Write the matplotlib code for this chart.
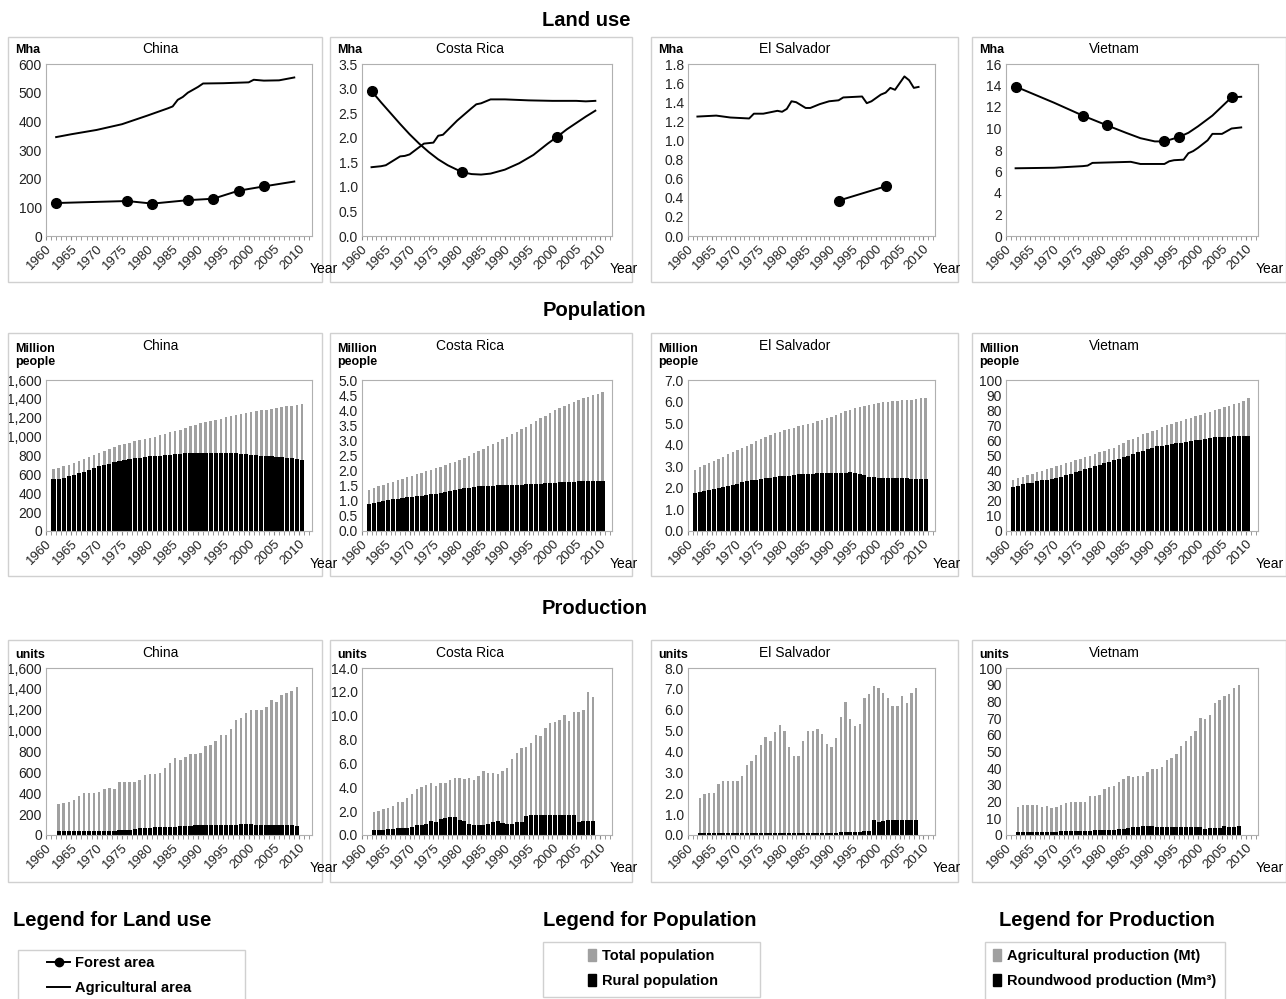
import numpy as np
import matplotlib.pyplot as plt
from matplotlib.patches import Rectangle
from matplotlib.lines import Line2D
from matplotlib.ticker import FuncFormatter, MultipleLocator

plt.rcParams['font.family'] = ['Liberation Sans', 'DejaVu Sans']

countries = ['China', 'Costa Rica', 'El Salvador', 'Vietnam']

# ---- Land use (Mha) ----
forest_years = {
    'China': [1962, 1976, 1981, 1988, 1993, 1998, 2003, 2009],
    'Costa Rica': [1962, 1964, 1966, 1968, 1970, 1972, 1974, 1976, 1978, 1981, 1983, 1985, 1987, 1990, 1993, 1996, 1999, 2001, 2003, 2005, 2007, 2009],
    'El Salvador': [1992, 2002],
    'Vietnam': [1962, 1970, 1976, 1981, 1985, 1988, 1991, 1993, 1996, 1998, 2000, 2003, 2007, 2009],
}
forest_vals = {
    'China': [115, 122, 113, 125, 130, 158, 173, 190],
    'Costa Rica': [2.95, 2.72, 2.50, 2.28, 2.07, 1.88, 1.71, 1.56, 1.44, 1.30, 1.26, 1.25, 1.27, 1.35, 1.48, 1.65, 1.88, 2.02, 2.17, 2.30, 2.43, 2.55],
    'El Salvador': [0.37, 0.52],
    'Vietnam': [13.9, 12.4, 11.2, 10.3, 9.6, 9.1, 8.8, 8.8, 9.2, 9.6, 10.2, 11.2, 12.9, 12.95],
}
forest_marked = {
    'China': [1962, 1976, 1981, 1988, 1993, 1998, 2003],
    'Costa Rica': [1962, 1981, 2001],
    'El Salvador': [1992, 2002],
    'Vietnam': [1962, 1976, 1981, 1993, 1996, 2007],
}
agri_years = {
    'China': [1962, 1965, 1970, 1975, 1980, 1984, 1985, 1986, 1987, 1988, 1990, 1991, 1995, 2000, 2001, 2003, 2006, 2009],
    'Costa Rica': [1962, 1964, 1965, 1968, 1969, 1970, 1973, 1975, 1976, 1977, 1980, 1983, 1984, 1985, 1987, 1990, 1995, 2000, 2005, 2007, 2009],
    'El Salvador': [1962, 1966, 1969, 1973, 1974, 1976, 1979, 1980, 1981, 1982, 1983, 1985, 1986, 1988, 1990, 1992, 1993, 1997, 1998, 1999, 2001, 2002, 2003, 2004, 2006, 2007, 2008, 2009],
    'Vietnam': [1962, 1970, 1976, 1977, 1978, 1986, 1988, 1993, 1994, 1995, 1997, 1998, 1999, 2000, 2002, 2003, 2005, 2007, 2009],
}
agri_vals = {
    'China': [345, 355, 370, 390, 420, 445, 452, 475, 485, 500, 520, 532, 533, 536, 545, 542, 543, 553],
    'Costa Rica': [1.40, 1.42, 1.44, 1.62, 1.63, 1.66, 1.88, 1.90, 2.04, 2.06, 2.35, 2.60, 2.68, 2.70, 2.78, 2.78, 2.76, 2.75, 2.75, 2.74, 2.75],
    'El Salvador': [1.25, 1.26, 1.24, 1.23, 1.28, 1.28, 1.31, 1.30, 1.33, 1.41, 1.40, 1.34, 1.34, 1.38, 1.41, 1.42, 1.45, 1.46, 1.39, 1.41, 1.48, 1.50, 1.55, 1.53, 1.67, 1.63, 1.55, 1.56],
    'Vietnam': [6.3, 6.35, 6.5, 6.55, 6.8, 6.9, 6.7, 6.7, 6.95, 7.05, 7.1, 7.7, 7.9, 8.2, 8.9, 9.5, 9.5, 10.0, 10.1],
}
land_ylim = {'China': (600, 100), 'Costa Rica': (3.5, 0.5), 'El Salvador': (1.8, 0.2), 'Vietnam': (16, 2)}
land_fmt = {'China': '{:.0f}', 'Costa Rica': '{:.1f}', 'El Salvador': '{:.1f}', 'Vietnam': '{:.0f}'}

# ---- Population (million people), 1961-2010 ----
pop_total = {
    'China': [660, 670, 685, 700, 720, 740, 760, 785, 805, 830, 850, 870, 890, 910, 925, 935, 950, 960, 975, 985,
              1000, 1015, 1030, 1045, 1060, 1075, 1095, 1110, 1125, 1140, 1155, 1165, 1180, 1190, 1205, 1215, 1225, 1240, 1250, 1260,
              1270, 1280, 1285, 1295, 1305, 1310, 1320, 1325, 1335, 1345],
    'Costa Rica': [1.37, 1.42, 1.48, 1.53, 1.58, 1.63, 1.68, 1.73, 1.78, 1.83, 1.88, 1.93, 1.98, 2.03, 2.08, 2.13, 2.18, 2.24, 2.30, 2.36,
                   2.43, 2.50, 2.57, 2.64, 2.72, 2.80, 2.88, 2.96, 3.04, 3.12, 3.20, 3.28, 3.37, 3.46, 3.55, 3.64, 3.73, 3.82, 3.91, 4.00,
                   4.08, 4.15, 4.22, 4.28, 4.34, 4.40, 4.45, 4.50, 4.55, 4.60],
    'El Salvador': [2.85, 2.95, 3.05, 3.15, 3.25, 3.35, 3.45, 3.55, 3.65, 3.75, 3.85, 3.95, 4.05, 4.15, 4.25, 4.35, 4.45, 4.53, 4.60, 4.67,
                    4.73, 4.79, 4.85, 4.90, 4.96, 5.02, 5.08, 5.15, 5.22, 5.30, 5.38, 5.46, 5.54, 5.62, 5.70, 5.76, 5.80, 5.85, 5.89, 5.93,
                    5.96, 5.99, 6.01, 6.03, 6.05, 6.07, 6.09, 6.12, 6.15, 6.18],
    'Vietnam': [34, 35, 36, 37, 38, 39, 40, 41, 42, 43, 44, 45, 46, 47, 48, 49, 50, 51, 52, 53,
                54, 55, 57, 58, 60, 61, 62, 64, 65, 66, 67, 69, 70, 71, 72, 73, 74, 75, 76, 77,
                78, 79, 80, 81, 82, 83, 84, 85, 86, 88],
}
pop_rural = {
    'China': [550, 555, 565, 580, 595, 610, 625, 645, 665, 685, 700, 715, 730, 745, 755, 765, 770, 775, 785, 790,
              795, 800, 805, 810, 815, 820, 822, 825, 828, 830, 830, 830, 830, 830, 828, 825, 822, 820, 815, 810,
              805, 800, 795, 790, 785, 780, 775, 770, 760, 750],
    'Costa Rica': [0.90, 0.93, 0.96, 0.99, 1.02, 1.05, 1.07, 1.09, 1.11, 1.13, 1.15, 1.17, 1.19, 1.21, 1.23, 1.26, 1.29, 1.32, 1.35, 1.38,
                   1.41, 1.44, 1.46, 1.48, 1.49, 1.50, 1.50, 1.51, 1.51, 1.52, 1.52, 1.53, 1.53, 1.54, 1.55, 1.56, 1.57, 1.58, 1.59, 1.60,
                   1.61, 1.62, 1.63, 1.63, 1.64, 1.64, 1.65, 1.65, 1.65, 1.65],
    'El Salvador': [1.75, 1.80, 1.85, 1.90, 1.95, 2.00, 2.05, 2.10, 2.15, 2.20, 2.25, 2.30, 2.35, 2.38, 2.42, 2.45, 2.48, 2.50, 2.53, 2.55,
                    2.57, 2.60, 2.62, 2.63, 2.65, 2.66, 2.67, 2.68, 2.68, 2.69, 2.70, 2.70, 2.71, 2.72, 2.70, 2.65, 2.58, 2.52, 2.50, 2.48,
                    2.47, 2.47, 2.46, 2.45, 2.45, 2.44, 2.43, 2.43, 2.42, 2.40],
    'Vietnam': [29, 30, 31, 31.5, 32, 33, 33.5, 34, 34.5, 35, 36, 37, 38, 39, 40, 41, 42, 43, 44, 45,
                46, 47, 48, 49, 50, 51, 52, 53, 54, 55, 56, 56.5, 57, 57.5, 58, 58.5, 59, 59.5, 60, 60.5,
                61, 61.5, 62, 62, 62.5, 62.5, 63, 63, 63, 63],
}
pop_ylim = {'China': (1600, 200), 'Costa Rica': (5.0, 0.5), 'El Salvador': (7.0, 1.0), 'Vietnam': (100, 10)}
pop_fmt = {'China': '{:,.0f}', 'Costa Rica': '{:.1f}', 'El Salvador': '{:.1f}', 'Vietnam': '{:.0f}'}

# ---- Production, agricultural (Mt) and roundwood (Mm3), from 1962 ----
prod_agri = {
    'China': [300, 310, 320, 340, 375, 405, 405, 405, 410, 440, 450, 440, 505, 505, 510, 510, 525, 575, 585, 580,
              590, 640, 690, 740, 720, 745, 775, 780, 790, 855, 865, 900, 955, 960, 1020, 1100, 1120, 1170, 1195, 1195,
              1200, 1230, 1290, 1270, 1340, 1360, 1375, 1420],
    'Costa Rica': [1.9, 2.0, 2.2, 2.3, 2.45, 2.8, 2.8, 3.1, 3.4, 3.85, 4.0, 4.2, 4.4, 4.1, 4.4, 4.35, 4.6, 4.75, 4.8, 4.7,
                   4.8, 4.65, 4.95, 5.35, 5.2, 5.2, 5.15, 5.35, 5.65, 6.4, 6.85, 7.3, 7.4, 7.7, 8.4, 8.3, 9.0, 9.4, 9.5, 9.6,
                   10.1, 9.55, 10.3, 10.35, 10.5, 12.0, 11.6],
    'El Salvador': [1.75, 1.98, 2.0, 2.03, 2.42, 2.6, 2.6, 2.6, 2.6, 2.85, 3.35, 3.55, 3.85, 4.3, 4.7, 4.5, 4.95, 5.25, 5.0, 4.2,
                    3.8, 3.78, 4.5, 5.0, 5.0, 5.1, 4.85, 4.35, 4.2, 4.65, 5.65, 6.35, 5.55, 5.2, 5.3, 6.55, 6.75, 7.15, 7.05, 6.8,
                    6.55, 6.2, 6.2, 6.65, 6.3, 6.8, 7.05],
    'Vietnam': [17, 18, 18, 18, 18, 17, 17.5, 16, 17, 18, 19, 19.5, 20, 20, 19.5, 23.5, 23.5, 24, 27.5, 29,
                29.5, 32, 33.5, 35.5, 35, 35.5, 35.5, 37.5, 39.5, 39.5, 41, 45, 46, 48.5, 53.5, 56, 59.5, 62.5, 70, 69.5,
                72, 79, 81, 83.5, 84.5, 88, 90],
}
prod_wood = {
    'China': [35, 35, 35, 37, 38, 38, 40, 40, 40, 40, 42, 42, 44, 45, 48, 60, 65, 68, 70, 72,
              75, 75, 75, 77, 85, 88, 90, 92, 92, 93, 93, 95, 95, 97, 98, 100, 102, 103, 104, 100,
              95, 92, 92, 92, 92, 92, 92, 90],
    'Costa Rica': [0.45, 0.45, 0.45, 0.5, 0.5, 0.55, 0.55, 0.6, 0.65, 0.8, 0.85, 0.9, 1.15, 1.1, 1.35, 1.45, 1.5, 1.5, 1.25, 1.15,
                   0.9, 0.8, 0.85, 0.85, 0.9, 1.1, 1.15, 1.0, 0.95, 0.95, 1.05, 1.1, 1.6, 1.65, 1.65, 1.65, 1.65, 1.65, 1.65, 1.65,
                   1.65, 1.65, 1.65, 1.05, 1.2, 1.2, 1.2],
    'El Salvador': [0.1, 0.1, 0.1, 0.08, 0.08, 0.08, 0.08, 0.08, 0.08, 0.08, 0.08, 0.08, 0.08, 0.08, 0.08, 0.08, 0.08, 0.08, 0.08, 0.08,
                    0.09, 0.09, 0.09, 0.09, 0.09, 0.09, 0.09, 0.09, 0.1, 0.1, 0.12, 0.12, 0.12, 0.12, 0.12, 0.2, 0.2, 0.7, 0.62, 0.65,
                    0.7, 0.7, 0.7, 0.7, 0.7, 0.7, 0.7],
    'Vietnam': [2, 2, 2, 2, 2, 2, 2, 2, 2, 2.2, 2.2, 2.2, 2.2, 2.2, 2.2, 2.5, 3, 3, 3, 3,
                3.2, 3.5, 3.5, 4, 4.5, 5, 5.2, 5.5, 5.2, 5, 4.8, 4.8, 4.6, 4.6, 4.6, 4.8, 4.8, 4.6, 4.6, 3.8,
                4.2, 4.2, 4.2, 5.2, 5, 5, 5.5],
}
prod_ylim = {'China': (1600, 200), 'Costa Rica': (14.0, 2.0), 'El Salvador': (8.0, 1.0), 'Vietnam': (100, 10)}
prod_fmt = {'China': '{:,.0f}', 'Costa Rica': '{:.1f}', 'El Salvador': '{:.1f}', 'Vietnam': '{:.0f}'}

W, H = 1286, 999
fig = plt.figure(figsize=(W / 100, H / 100), dpi=100)


def fx(px):
    return px / W


def fy(py):
    return 1 - py / H


box_x = [(8, 322), (330, 632), (651, 958), (972, 1286)]
axes_x = [(46, 312), (362, 612), (688, 935), (1006, 1258)]
rows = [  # box top, box bottom, axes top, axes bottom, title y, unit label top y
    (37, 282, 64, 236, 49, 44),
    (333, 576, 380, 531, 346, 343),
    (640, 882, 668, 835, 653, 649),
]
units = ['Mha', 'Million\npeople', 'units']
GRAY = '#a0a0a0'


def make_axes(r, c, ylabel, ylim, fmt):
    bt, bb, at, ab, ty, uy = rows[r]
    bx0, bx1 = box_x[c]
    fig.add_artist(Rectangle((fx(bx0), fy(bb)), fx(bx1 - bx0), (bb - bt) / H,
                             transform=fig.transFigure, fill=False, ec='#d0d0d0', lw=1))
    ax0, ax1 = axes_x[c]
    ax = fig.add_axes([fx(ax0), fy(ab), fx(ax1 - ax0), (ab - at) / H])
    ax.set_xlim(1960, 2012.5)
    ax.set_ylim(0, ylim[0])
    ax.yaxis.set_major_locator(MultipleLocator(ylim[1]))
    ax.yaxis.set_major_formatter(FuncFormatter(lambda v, p: fmt.format(v)))
    ax.set_xticks(range(1960, 2011, 5))
    ax.set_xticks(range(1960, 2013), minor=True)
    ax.set_xticklabels([str(y) for y in range(1960, 2011, 5)], rotation=45, ha='right',
                       rotation_mode='anchor', fontsize=9.5, color='#222222')
    ax.tick_params(axis='y', length=0, labelsize=10, pad=3, labelcolor='#222222')
    ax.tick_params(axis='x', which='both', length=3, color='#888888', pad=2)
    for s in ax.spines.values():
        s.set_color('#b0b0b0')
        s.set_linewidth(0.8)
    fig.text(fx(bx0 + 7), fy(uy), ylabel, fontsize=9, fontweight='bold', ha='left', va='top',
             linespacing=1.15)
    fig.text(fx(ax0 + 0.43 * (ax1 - ax0)), fy(ty), countries[c], fontsize=10, ha='center', va='center')
    fig.text(fx(ax1 - 2), fy(ab + 33), 'Year', fontsize=10, ha='left', va='center')
    return ax


for c, name in enumerate(countries):
    # land use
    ax = make_axes(0, c, units[0], land_ylim[name], land_fmt[name])
    ax.plot(agri_years[name], agri_vals[name], color='black', lw=1.4)
    fyrs = forest_years[name]
    idx = [i for i, y in enumerate(fyrs) if y in forest_marked[name]]
    ax.plot(fyrs, forest_vals[name], color='black', lw=1.4, marker='o', ms=7,
            markevery=idx)

    # population
    ax = make_axes(1, c, units[1], pop_ylim[name], pop_fmt[name])
    yrs = 1961.5 + np.arange(len(pop_total[name]))
    ax.bar(yrs, pop_total[name], width=0.5, color=GRAY)
    ax.bar(yrs, pop_rural[name], width=0.85, color='black')

    # production
    ax = make_axes(2, c, units[2], prod_ylim[name], prod_fmt[name])
    yrs = 1962.5 + np.arange(len(prod_agri[name]))
    ax.bar(yrs, prod_agri[name], width=0.5, color=GRAY)
    ax.bar(yrs[:len(prod_wood[name])], prod_wood[name], width=0.85, color='black')

# section titles
for txt, xp, yp in [('Land use', 586, 20), ('Population', 594, 310), ('Production', 595, 608),
                    ('Legend for Land use', 112, 921), ('Legend for Population', 650, 921),
                    ('Legend for Production', 1107, 921)]:
    fig.text(fx(xp), fy(yp), txt, ha='center', va='center', fontsize=14.5, fontweight='bold')

# legend boxes
for x0, y0, x1, y1 in [(18, 950, 245, 1005), (543, 942, 760, 997), (985, 942, 1225, 1005)]:
    fig.add_artist(Rectangle((fx(x0), fy(y1)), fx(x1 - x0), (y1 - y0) / H,
                             transform=fig.transFigure, fill=False, ec='#d0d0d0', lw=1))

land_handles = [Line2D([], [], color='black', lw=1.4, marker='o', ms=6),
                Line2D([], [], color='black', lw=1.4)]
bar_handles = [Rectangle((0, 0), 1, 1, color=GRAY), Rectangle((0, 0), 1, 1, color='black')]
legend_kw = dict(frameon=False, prop={'weight': 'bold', 'size': 10.5}, labelspacing=0.75,
                 borderpad=0, borderaxespad=0)
fig.legend(land_handles, ['Forest area', 'Agricultural area'], loc='upper left',
           bbox_to_anchor=(fx(47), fy(956)), handlelength=1.6, handletextpad=0.3, **legend_kw)
fig.legend(bar_handles, ['Total population', 'Rural population'], loc='upper left',
           bbox_to_anchor=(fx(588), fy(949)), handlelength=0.55, handleheight=0.9,
           handletextpad=0.4, **legend_kw)
fig.legend(bar_handles, ['Agricultural production (Mt)', 'Roundwood production (Mm³)'],
           loc='upper left', bbox_to_anchor=(fx(993), fy(949)), handlelength=0.55,
           handleheight=0.9, handletextpad=0.4, **legend_kw)

fig.savefig('out.png', dpi=100)
